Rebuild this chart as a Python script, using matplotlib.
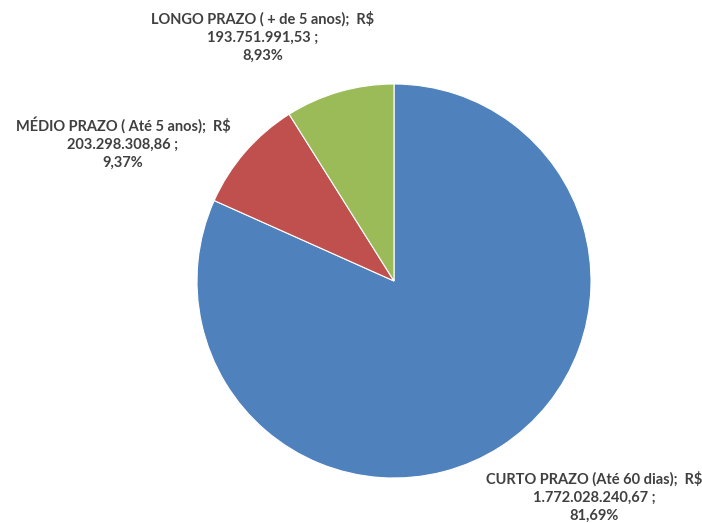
import matplotlib.pyplot as plt

# Dados
categorias = ['CURTO PRAZO (Até 60 dias)', 'MÉDIO PRAZO ( Até 5 anos)', 'LONGO PRAZO ( + de 5 anos)']
valores = [1772028240.67, 203298308.86, 193751991.53]
valores_txt = ['1.772.028.240,67', '203.298.308,86', '193.751.991,53']
percentuais = ['81,69%', '9,37%', '8,93%']
cores = ['#4F81BD', '#C0504D', '#9BBB59']

W, H = 702, 523
fig = plt.figure(figsize=(W / 100, H / 100), dpi=100)
ax = fig.add_axes([0, 0, 1, 1])
ax.set_xlim(0, W)
ax.set_ylim(0, H)
ax.axis('off')

ax.pie(valores, colors=cores, startangle=90, counterclock=False,
       radius=197, center=(394, H - 281), frame=True,
       wedgeprops=dict(edgecolor='white', linewidth=0.8))
ax.set_xlim(0, W)
ax.set_ylim(0, H)
ax.set_aspect('equal')
ax.axis('off')

# posições dos rótulos (px, a partir do topo)
pos_rotulos = [(594, 497), (123, 143), (263, 37)]
for cat, vt, pc, (x, y) in zip(categorias, valores_txt, percentuais, pos_rotulos):
    ax.text(x, H - y, f'{cat};  R$\n{vt} ;\n{pc}', ha='center', va='center',
            fontsize=10.5, fontweight='bold', color='#404040',
            family=['Lato', 'DejaVu Sans'], linespacing=1.35)

fig.savefig('out.png', dpi=100)
